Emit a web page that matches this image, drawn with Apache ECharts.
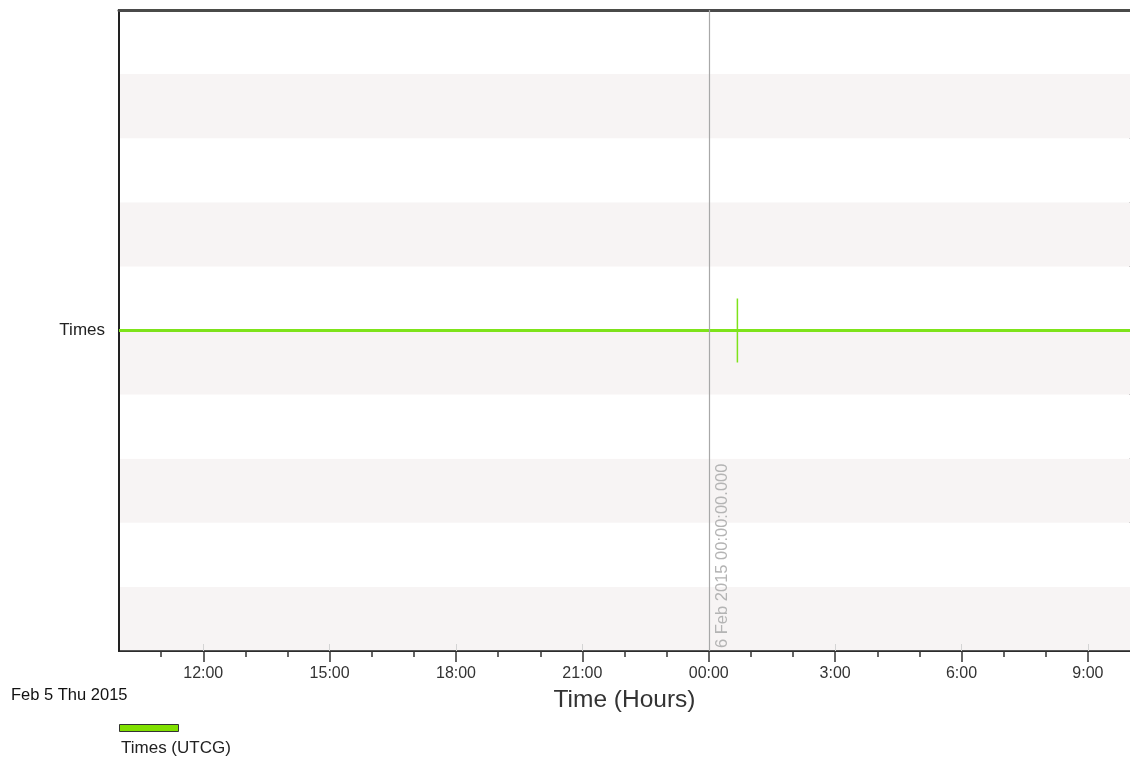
<!DOCTYPE html>
<html>
<head>
<meta charset="utf-8">
<title>Times (UTCG)</title>
<script src="https://cdn.jsdelivr.net/npm/echarts@6/dist/echarts.min.js"></script>
<style>
  html, body { margin: 0; padding: 0; background: #fff; }
  #chart { width: 1130px; height: 760px; }
</style>
</head>
<body>
<div id="chart"></div>
<script>
// Hours relative to 6 Feb 2015 00:00 UTCG
const hourRange = [-14, 10];
const majorHours = [-12, -9, -6, -3, 0, 3, 6, 9];
const minorHours = [-13, -11, -10, -8, -7, -5, -4, -2, -1, 1, 2, 4, 5, 7, 8];
// Row position of the "Times" track on the stacked rows axis
const rowCount = 10;
const timesRow = 5;
const timesTrack = [[-14, 5], [10, 5]];
// Event marker on the track (00:41)
const eventHour = 0.68;
const eventSpan = [4.5, 5.5];
const dayBoundaryHour = 0;
const dayBoundaryLabel = '6 Feb 2015 00:00:00.000';
const startDateLabel = 'Feb 5 Thu 2015';
const legendLabel = 'Times (UTCG)';

const FONT = '"Liberation Sans", Arial, sans-serif';
const GREEN = '#7ee31a';

function hourLabel(v) {
  const h = ((Math.round(v) % 24) + 24) % 24;
  return h === 0 ? '00:00' : h + ':00';
}

const chart = echarts.init(document.getElementById('chart'), null, { renderer: 'canvas' });

const gridBox = { left: 119, top: 10, width: 1016, height: 641 };

chart.setOption({
  animation: false,
  backgroundColor: '#fff',
  textStyle: { fontFamily: FONT },
  grid: Object.assign({ show: true, borderColor: '#4c4c4c', borderWidth: 2, backgroundColor: 'transparent' }, gridBox),
  xAxis: [
    {
      type: 'value', min: hourRange[0], max: hourRange[1],
      name: 'Time (Hours)', nameLocation: 'middle', nameGap: 37,
      nameTextStyle: { fontSize: 24.5, color: '#333', fontFamily: FONT },
      axisLine: { show: true, onZero: false, lineStyle: { color: '#222', width: 1.5 } },
      axisTick: { show: true, customValues: majorHours, length: 11, lineStyle: { color: '#333', width: 1.5 } },
      axisLabel: { show: true, customValues: majorHours, formatter: hourLabel, margin: 15, fontSize: 16, color: '#333', fontFamily: FONT },
      splitLine: { show: false }
    },
    {
      type: 'value', min: hourRange[0], max: hourRange[1], position: 'bottom',
      axisLine: { show: false, onZero: false },
      axisTick: { show: true, customValues: minorHours, length: 6, lineStyle: { color: '#333', width: 1.5 } },
      axisLabel: { show: false },
      splitLine: { show: false }
    },
    {
      type: 'value', min: hourRange[0], max: hourRange[1], position: 'bottom',
      axisLine: { show: false, onZero: false },
      axisTick: { show: true, inside: true, customValues: majorHours, length: 7, lineStyle: { color: '#d4d4d4', width: 1 } },
      axisLabel: { show: false },
      splitLine: { show: false }
    },
    {
      // heavy frame line along the top edge
      type: 'value', min: hourRange[0], max: hourRange[1], position: 'top',
      axisLine: { show: true, onZero: false, lineStyle: { color: '#4a4a4a', width: 3 } },
      axisTick: { show: false },
      axisLabel: { show: false },
      splitLine: { show: false }
    }
  ],
  yAxis: [
    {
      type: 'value', min: 0, max: rowCount, interval: 1,
      axisLine: { show: true, onZero: false, lineStyle: { color: '#222', width: 2 } },
      axisTick: { show: true, inside: true, customValues: [timesRow], length: 10, lineStyle: { color: '#335a10', width: 1 } },
      axisLabel: {
        show: true, customValues: [timesRow], margin: 14, fontSize: 17, color: '#222', fontFamily: FONT,
        formatter: function (v) { return v === timesRow ? 'Times' : ''; }
      },
      splitLine: { show: false },
      splitArea: { show: false }
    },
    {
      // alternating row bands
      type: 'value', min: 0, max: rowCount, interval: 1, position: 'left',
      axisLine: { show: false, onZero: false },
      axisTick: { show: false },
      axisLabel: { show: false },
      splitLine: { show: false },
      splitArea: { show: true, areaStyle: { color: ['#f7f4f4', '#ffffff'] } }
    }
  ],
  series: [
    {
      name: 'Times', type: 'line', data: timesTrack, symbol: 'none', z: 3,
      lineStyle: { color: GREEN, width: 3 },
      markLine: {
        silent: true, symbol: 'none',
        lineStyle: { color: '#a8a8a8', width: 1.2, type: 'solid' },
        label: {
          show: true, position: 'insideStartBottom', formatter: dayBoundaryLabel,
          color: '#b4b4b4', fontSize: 16.5, fontFamily: FONT, distance: [3, 5]
        },
        data: [{ xAxis: dayBoundaryHour }]
      }
    },
    {
      name: 'Times event', type: 'line', symbol: 'none', z: 4,
      data: [[eventHour, eventSpan[0]], [eventHour, eventSpan[1]]],
      lineStyle: { color: GREEN, width: 1.5 }
    }
  ],
  graphic: [
    { type: 'text', x: 11, y: 695, style: { text: startDateLabel, fontSize: 16.5, fill: '#111', fontFamily: FONT, verticalAlign: 'middle' } },
    { type: 'rect', shape: { x: 119.5, y: 724.5, width: 59, height: 7 }, style: { fill: '#80e000', stroke: '#333', lineWidth: 1 } },
    { type: 'text', x: 121, y: 748, style: { text: legendLabel, fontSize: 17, fill: '#222', fontFamily: FONT, verticalAlign: 'middle' } }
  ]
});
</script>
</body>
</html>
